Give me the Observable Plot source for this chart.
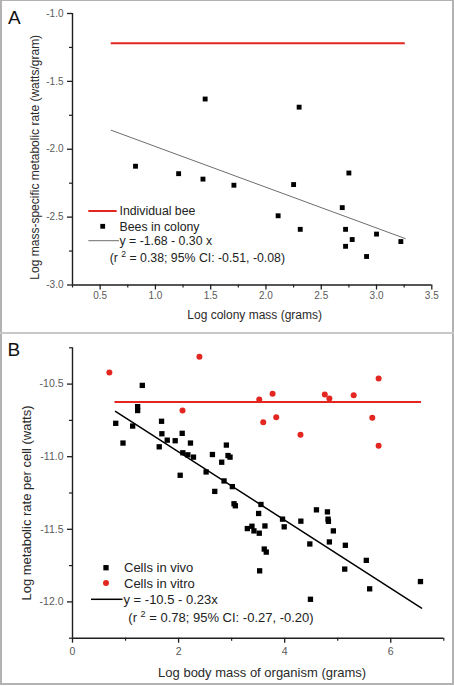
<!DOCTYPE html>
<html><head><meta charset="utf-8">
<script src="https://cdn.jsdelivr.net/npm/d3@7"></script>
<script src="https://cdn.jsdelivr.net/npm/@observablehq/plot@0.6"></script>
<style>
html,body{margin:0;padding:0;background:#fff;}
#wrap{position:relative;width:454px;height:686px;overflow:hidden;font-family:"Liberation Sans",Arial,sans-serif;}
.panel{position:absolute;left:0;width:454px;}
.panel svg{display:block;}
#border{position:absolute;left:0;top:0;width:454px;height:685px;box-sizing:border-box;border:2px solid #b2b2b2;border-top-width:1px;}
#sep{position:absolute;left:0;top:332px;width:454px;height:2px;background:#c8c8c8;}
</style></head><body>
<div id="wrap">
  <div id="pA" class="panel" style="top:0;height:333px"></div>
  <div id="pB" class="panel" style="top:333px;height:353px"></div>
  <div id="border"></div>
  <div id="sep"></div>
</div>
<script>
// ---------- Panel A data ----------
const beeColonyMass = [0.82, 1.21, 1.45, 1.43, 1.71, 2.11, 2.25, 2.30, 2.31, 2.69, 2.75, 2.72, 2.72, 2.78, 2.91, 3.00, 3.22];
const beeColonyRate = [-2.125, -2.18, -1.63, -2.22, -2.265, -2.49, -2.26, -1.69, -2.59, -2.43, -2.175, -2.59, -2.715, -2.665, -2.79, -2.625, -2.68];
const individualBeeRate = -1.22;
const individualBeeSpan = [0.6, 3.26];
const beeFitIntercept = -1.68;
const beeFitSlope = -0.30;
const beeFitSpan = [0.6, 3.26];
const beeXDomain = [0.25, 3.5];
const beeYDomain = [-3.0, -1.0];
const beeXTicks = [0.5, 1.0, 1.5, 2.0, 2.5, 3.0, 3.5];
const beeXMinor = [0.25, 0.75, 1.25, 1.75, 2.25, 2.75, 3.25];
const beeYTicks = [-3.0, -2.5, -2.0, -1.5, -1.0];
const beeYMinor = [-2.75, -2.25, -1.75, -1.25];
const beeLegend = ["Individual bee", "Bees in colony", "y = -1.68 - 0.30 x", "0.38; 95% CI: -0.51, -0.08)"];

// ---------- Panel B data ----------
const vivoMass = [0.815, 0.952, 1.134, 1.228, 1.228, 1.316, 1.635, 1.679, 1.685, 1.786, 1.936, 2.068, 2.030, 2.080, 2.174, 2.224, 2.281, 2.519, 2.638, 2.682, 2.813, 2.857, 2.901, 2.932, 2.970, 3.014, 3.045, 3.070, 3.296, 3.383, 3.421, 3.509, 3.521, 3.553, 3.628, 3.615, 3.653, 3.528, 3.960, 3.991, 4.305, 4.474, 4.486, 4.599, 4.806, 4.818, 4.825, 4.843, 4.918, 5.144, 5.132, 5.539, 5.602, 6.560];
const vivoRate = [-10.770, -10.906, -10.789, -10.655, -10.682, -10.509, -10.932, -10.756, -10.842, -10.886, -10.890, -10.839, -11.128, -10.973, -10.987, -10.906, -11.003, -11.105, -10.985, -11.239, -11.038, -11.167, -10.920, -10.992, -11.003, -11.206, -11.324, -11.338, -11.495, -11.479, -11.511, -11.391, -11.527, -11.329, -11.477, -11.636, -11.657, -11.786, -11.430, -11.483, -11.444, -11.601, -11.982, -11.366, -11.380, -11.430, -11.445, -11.587, -11.511, -11.610, -11.774, -11.714, -11.910, -11.860];
const vitroMass = [0.695, 2.393, 2.074, 3.521, 3.772, 3.596, 3.841, 4.298, 4.756, 4.843, 5.301, 5.771, 5.652, 5.771];
const vitroRate = [-10.42, -10.311, -10.682, -10.606, -10.567, -10.763, -10.729, -10.849, -10.572, -10.599, -10.576, -10.461, -10.731, -10.925];
const vitroMeanRate = -10.623;
const vitroMeanSpan = [0.8, 6.58];
const cellFitIntercept = -10.497;
const cellFitSlope = -0.235;
const cellFitSpan = [0.81, 6.58];
const cellXDomain = [0, 7];
const cellYDomain = [-12.25, -10.25];
const cellXTicks = [0, 2, 4, 6];
const cellXMinor = [1, 3, 5, 7];
const cellYTicks = [-12.0, -11.5, -11.0, -10.5];
const cellYMinor = [-12.25, -11.75, -11.25, -10.75, -10.25];
const cellLegend = ["Cells in vivo", "Cells in vitro", "y = -10.5 - 0.23x", "0.78; 95% CI: -0.27, -0.20)"];

const RED = "#e3261f";
const AXIS = "#1e1e1e";
const TICKTXT = "#5a5a5a";
const FONT = "Liberation Sans, Arial, sans-serif";

function axes(xT, xMin, yT, yMin, fmtX, fmtY, fs, xPad, xDom, yDom) {
  return [
    Plot.ruleY([yDom[0]], {stroke: AXIS, strokeWidth: 1.4}),
    Plot.ruleX([xDom[0]], {stroke: AXIS, strokeWidth: 1.4}),
    Plot.axisX({ticks: xT, tickSize: 5, tickPadding: xPad, tickFormat: fmtX, fontSize: fs, fill: TICKTXT, stroke: AXIS, strokeWidth: 1.3, label: null}),
    Plot.axisX({ticks: xMin, tickSize: 3, tickFormat: () => "", stroke: AXIS, strokeWidth: 1.2, label: null}),
    Plot.axisY({ticks: yT, tickSize: 5, tickPadding: 4, tickFormat: fmtY, fontSize: fs, fill: TICKTXT, stroke: AXIS, strokeWidth: 1.3, label: null}),
    Plot.axisY({ticks: yMin, tickSize: 3, tickFormat: () => "", stroke: AXIS, strokeWidth: 1.2, label: null})
  ];
}

// ---------- Panel A ----------
const beePts = beeColonyMass.map((x, i) => ({x, y: beeColonyRate[i]}));
const beeFit = beeFitSpan.map(x => ({x, y: beeFitIntercept + beeFitSlope * x}));
const plotA = Plot.plot({
  width: 454, height: 333,
  marginLeft: 72, marginRight: 22.7, marginTop: 13, marginBottom: 48.5,
  style: {fontFamily: FONT, background: "transparent", overflow: "visible"},
  x: {domain: beeXDomain},
  y: {domain: beeYDomain},
  marks: [
    ...axes(beeXTicks, beeXMinor, beeYTicks, beeYMinor, d => d.toFixed(1), d => d.toFixed(1), 10, 2, beeXDomain, beeYDomain),
    Plot.ruleY([{y: individualBeeRate, x1: individualBeeSpan[0], x2: individualBeeSpan[1]}], {y: "y", x1: "x1", x2: "x2", stroke: RED, strokeWidth: 2}),
    Plot.line(beeFit, {x: "x", y: "y", stroke: "#6e6e6e", strokeWidth: 1}),
    Plot.dot(beePts, {x: "x", y: "y", symbol: "square", r: 2.75, fill: "#000", stroke: "none"}),
    Plot.text(["Log colony mass (grams)"], {frameAnchor: "bottom", dy: 30.5, dx: 2.5, lineAnchor: "middle", fontSize: 12, fill: "#2a2a2a"}),
    Plot.text(["Log mass-specific metabolic rate (watts/gram)"], {frameAnchor: "left", dx: -37, dy: 8, rotate: -90, lineAnchor: "middle", textAnchor: "middle", fontSize: 12, fill: "#2a2a2a"})
  ]
});
document.getElementById("pA").appendChild(plotA);

// ---------- Panel B ----------
const vivoPts = vivoMass.map((x, i) => ({x, y: vivoRate[i]}));
const vitroPts = vitroMass.map((x, i) => ({x, y: vitroRate[i]}));
const cellFit = cellFitSpan.map(x => ({x, y: cellFitIntercept + cellFitSlope * x}));
const plotB = Plot.plot({
  width: 454, height: 353,
  marginLeft: 72, marginRight: 10.7, marginTop: 14.3, marginBottom: 48.3,
  style: {fontFamily: FONT, background: "transparent", overflow: "visible"},
  x: {domain: cellXDomain},
  y: {domain: cellYDomain},
  marks: [
    ...axes(cellXTicks, cellXMinor, cellYTicks, cellYMinor, d => String(d), d => d.toFixed(1), 10.5, 4, cellXDomain, cellYDomain),
    Plot.ruleY([{y: vitroMeanRate, x1: vitroMeanSpan[0], x2: vitroMeanSpan[1]}], {y: "y", x1: "x1", x2: "x2", stroke: RED, strokeWidth: 2}),
    Plot.line(cellFit, {x: "x", y: "y", stroke: "#000", strokeWidth: 1.5}),
    Plot.dot(vitroPts, {x: "x", y: "y", r: 3, fill: RED, stroke: "none"}),
    Plot.dot(vivoPts, {x: "x", y: "y", symbol: "square", r: 3.0, fill: "#000", stroke: "none"}),
    Plot.text(["Log body mass of organism (grams)"], {frameAnchor: "bottom", dy: 34.6, dx: 4, lineAnchor: "middle", fontSize: 13, fill: "#2a2a2a"}),
    Plot.text(["Log metabolic rate per cell (watts)"], {frameAnchor: "left", dx: -45.3, dy: 10, rotate: -90, lineAnchor: "middle", textAnchor: "middle", fontSize: 13, fill: "#2a2a2a"})
  ]
});
document.getElementById("pB").appendChild(plotB);

// ---------- Legends & panel tags ----------
function legend(svgNode, o) {
  const g = d3.select(svgNode).append("g").attr("font-family", FONT).attr("fill", "#222").attr("font-size", o.fs).attr("text-anchor", "start");
  const t = (x, y, s) => g.append("text").attr("x", x).attr("y", y).attr("dy", "0.35em").attr("text-anchor", "start").text(s);
  o.items.forEach(it => {
    if (it.kind === "line") g.append("line").attr("x1", it.x1).attr("x2", it.x2).attr("y1", it.y).attr("y2", it.y).attr("stroke", it.color).attr("stroke-width", it.w);
    if (it.kind === "square") g.append("rect").attr("x", it.cx - it.s / 2).attr("y", it.y - it.s / 2).attr("width", it.s).attr("height", it.s).attr("fill", "#000");
    if (it.kind === "circle") g.append("circle").attr("cx", it.cx).attr("cy", it.y).attr("r", it.r).attr("fill", RED);
    if (it.kind === "r2") {
      const tx = g.append("text").attr("x", it.tx).attr("y", it.y).attr("dy", "0.35em").attr("text-anchor", "start");
      tx.append("tspan").text("(r ");
      tx.append("tspan").attr("font-size", o.fs * 0.7).attr("dy", -5).text("2");
      tx.append("tspan").attr("dy", 5).text(" = " + it.label);
    } else if (it.label) t(it.tx, it.y, it.label);
  });
  d3.select(svgNode).append("text").attr("x", o.tagX).attr("y", o.tagY).attr("text-anchor", "start").attr("font-family", FONT).attr("font-size", 19).attr("fill", "#111").text(o.tag);
}

legend(plotA, {fs: 12.3, tag: "A", tagX: 8, tagY: 24, items: [
  {kind: "line", x1: 88.3, x2: 116.7, y: 211, color: RED, w: 2, tx: 119.5, label: beeLegend[0]},
  {kind: "square", cx: 102.7, s: 4.8, y: 226.3, tx: 119.5, label: beeLegend[1]},
  {kind: "line", x1: 88.3, x2: 119, y: 240.7, color: "#6e6e6e", w: 1, tx: 119.5, label: beeLegend[2]},
  {kind: "r2", tx: 109.7, y: 257.7, label: beeLegend[3]}
]});
legend(plotB, {fs: 13, tag: "B", tagX: 7.5, tagY: 23, items: [
  {kind: "square", cx: 106, s: 5.3, y: 234.7, tx: 124, label: cellLegend[0]},
  {kind: "circle", cx: 106, r: 3, y: 250, tx: 124, label: cellLegend[1]},
  {kind: "line", x1: 91, x2: 122.5, y: 266.3, color: "#000", w: 1.5, tx: 123.5, label: cellLegend[2]},
  {kind: "r2", tx: 128.3, y: 284.3, label: cellLegend[3]}
]});
</script>
</body></html>
